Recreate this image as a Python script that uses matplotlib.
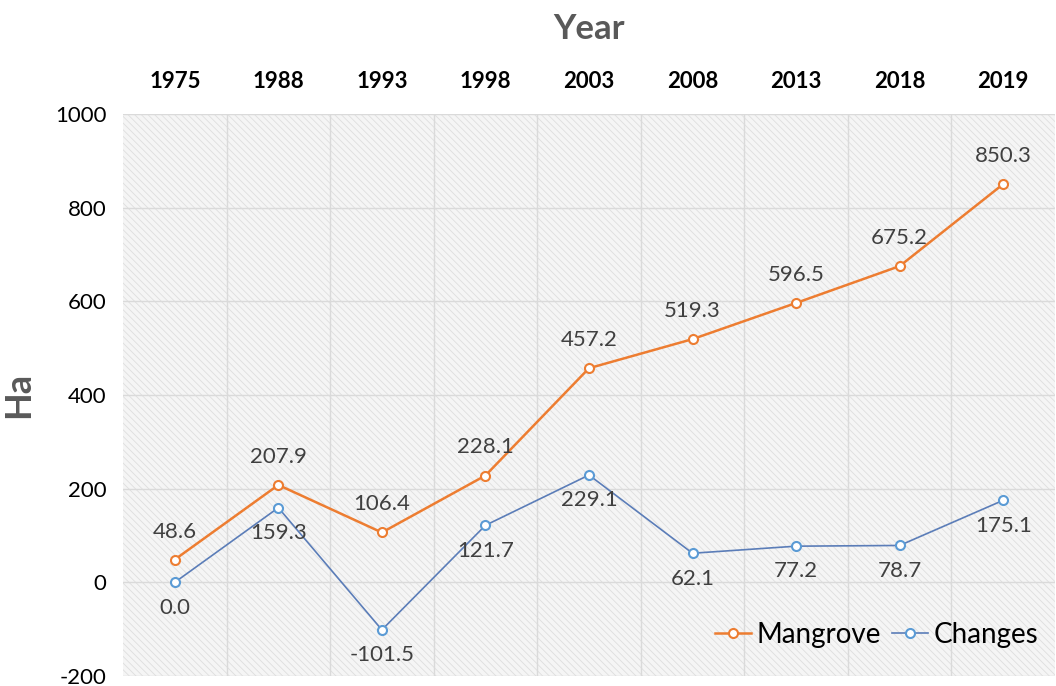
import numpy as np
import matplotlib
matplotlib.use("Agg")
import matplotlib.pyplot as plt
from matplotlib.patches import Rectangle

# data
years = ["1975", "1988", "1993", "1998", "2003", "2008", "2013", "2018", "2019"]
mangrove = [48.6, 207.9, 106.4, 228.1, 457.2, 519.3, 596.5, 675.2, 850.3]
changes = [0.0, 159.3, -101.5, 121.7, 229.1, 62.1, 77.2, 78.7, 175.1]

plt.rcParams['font.family'] = ['Lato', 'DejaVu Sans']
plt.rcParams['hatch.linewidth'] = 0.6
plt.rcParams['axes.unicode_minus'] = False

orange = "#ED7D31"
blue_line = "#5B7DB8"
blue_mk = "#5B9BD5"
txt = "#404040"

fig = plt.figure(figsize=(10.56, 6.86), dpi=100)
ax = fig.add_axes([0.1165, 0.0146, 0.8825, 0.8192])

x = np.arange(len(years))

# hatched background
bg = Rectangle((0, 0), 1, 1, transform=ax.transAxes, facecolor="#f5f5f5",
               edgecolor="#dedede", hatch="\\\\\\\\\\", lw=0, zorder=0)
ax.add_patch(bg)

ax.plot(x, mangrove, color=orange, lw=1.8, marker="o", ms=6.5,
        mfc="white", mec=orange, mew=1.5, label="Mangrove", zorder=3)
ax.plot(x, changes, color=blue_line, lw=1.2, marker="o", ms=6.5,
        mfc="white", mec=blue_mk, mew=1.5, label="Changes", zorder=3)

for xi, v in zip(x, mangrove):
    ax.annotate(f"{v:.1f}", (xi, v), xytext=(0, 13), textcoords="offset points",
                ha="center", va="bottom", fontsize=16, color=txt)
for xi, v in zip(x, changes):
    ax.annotate(f"{v:.1f}", (xi, v), xytext=(0, -11), textcoords="offset points",
                ha="center", va="top", fontsize=16, color=txt)

ax.set_xlim(-0.5, len(years) - 0.5)
ax.set_ylim(-200, 1000)
ax.set_yticks(np.arange(-200, 1001, 200))

# vertical grid between categories
for b in np.arange(0.5, len(years) - 0.5, 1):
    ax.axvline(b, color="#dadada", lw=1, zorder=1)
ax.yaxis.grid(True, color="#dadada", lw=1, zorder=1)
ax.set_axisbelow(True)

ax.xaxis.tick_top()
ax.xaxis.set_label_position("top")
ax.set_xticks(x)
ax.set_xticklabels(years, fontsize=16, fontweight="bold", color="black")
ax.tick_params(axis="x", length=0, pad=16)
ax.tick_params(axis="y", length=0, pad=12, labelsize=16, labelcolor="black")

ax.set_xlabel("Year", fontsize=25, fontweight="bold", color="#595959", labelpad=23)
ax.set_ylabel("Ha", fontsize=26, fontweight="bold", color="#595959", labelpad=14)

for s in ax.spines.values():
    s.set_visible(False)

leg = ax.legend(loc="lower right", bbox_to_anchor=(1.0, 0.02), ncol=2, frameon=False,
                fontsize=20, handlelength=1.3, handletextpad=0.2, columnspacing=0.4,
                borderaxespad=0.2)

fig.savefig("out.png", dpi=100)
